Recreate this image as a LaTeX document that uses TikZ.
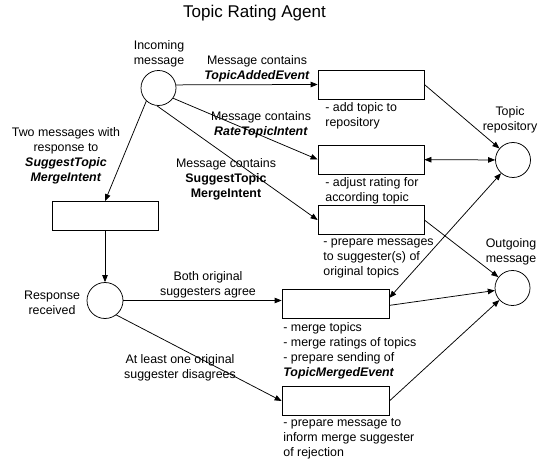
\documentclass[tikz,border=0pt]{standalone}
\usepackage{fontspec}
\setmainfont{Liberation Sans}
\usetikzlibrary{arrows.meta}

\begin{document}
\begin{tikzpicture}[x=1pt, y=-1pt, line width=0.75pt,
  place/.style={shape=circle, draw, minimum size=35pt, inner sep=0pt},
  act/.style={shape=rectangle, draw, minimum width=106pt, minimum height=29pt, inner sep=0pt},
  lbl/.style={align=center, inner sep=0pt, font=\fontsize{12.4}{15}\selectfont},
  note/.style={align=left, anchor=north west, inner sep=0pt, font=\fontsize{12.4}{15}\selectfont},
  arr/.style={-{Triangle[length=7pt,width=5.5pt]}},
  darr/.style={{Triangle[length=7pt,width=5.5pt]}-{Triangle[length=7pt,width=5.5pt]}}]
\useasboundingbox (0,0) rectangle (540,462);
\node[font=\fontsize{17}{20}\selectfont, inner sep=0pt] (title) at (254.5,13.5) {Topic Rating Agent};
% places
\node[place] (inc) at (158.5,88) {};
\node[place] (repo) at (513,160) {};
\node[place] (out) at (512.5,288) {};
\node[place, minimum size=36pt] (resp) at (105,300.5) {};
% activities
\node[act] (add) at (371,84.5) {};
\node[act] (adjust) at (371,159.5) {};
\node[act] (prep) at (371,220) {};
\node[act] (wait) at (105,216) {};
\node[act, minimum width=107pt] (merge) at (335.5,303.5) {};
\node[act, minimum width=107pt] (reject) at (335.5,401) {};
% labels
\node[lbl] (incl) at (159,53.5) {Incoming\\message};
\node[lbl] (repol) at (510,120) {Topic\\repository};
\node[lbl] (outl) at (511,251.5) {Outgoing\\message};
\node[lbl] (respl) at (52,302.5) {Response\\received};
\node[lbl] (addl) at (257,68.5) {Message contains\\\textbf{\textit{TopicAddedEvent}}};
\node[lbl] (ratel) at (261,124.5) {Message contains\\\textbf{\textit{RateTopicIntent}}};
\node[lbl] (suggl) at (226,179) {Message contains\\\textbf{SuggestTopic}\\\textbf{MergeIntent}};
\node[lbl] (twol) at (66,155.5) {Two messages with\\response to\\\textbf{\textit{SuggestTopic}}\\\textbf{\textit{MergeIntent}}};
\node[lbl] (agreel) at (208,284.5) {Both original\\suggesters agree};
\node[lbl] (disagl) at (180,367.5) {At least one original\\suggester disagrees};
% notes under the boxes
\node[note] (addn) at (325,102) {- add topic to\\repository};
\node[note] (adjustn) at (325,177) {- adjust rating for\\according topic};
\node[note] (prepn) at (323,238) {- prepare messages\\to suggester(s) of\\original topics};
\node[note] (mergen) at (283,322) {- merge topics\\- merge ratings of topics\\- prepare sending of\\\textbf{\textit{TopicMergedEvent}}};
\node[note] (rejectn) at (283,418) {- prepare message to\\inform merge suggester\\of rejection};
% arcs
\draw[arr] (inc.10) -- (add.west);
\draw[arr] (inc.-35) -- (adjust.west);
\draw[arr] (inc.-95) -- (prep.west);
\draw[arr] (inc.-133) -- (wait.north);
\draw[arr] (wait) -- (resp);
\draw[arr] (resp) -- (resp -| merge.west);
\draw[arr] (resp.-52) -- (reject.west);
\draw[arr] (add.east) -- (repo);
\draw[darr] (adjust) -- (repo);
\draw[arr] (prep.east) -- (out);
\draw[darr] (repo) -- (merge.6);
\draw[arr] (merge.-2) -- (out);
\draw[arr] (reject.east) -- (out);
\end{tikzpicture}
\end{document}
